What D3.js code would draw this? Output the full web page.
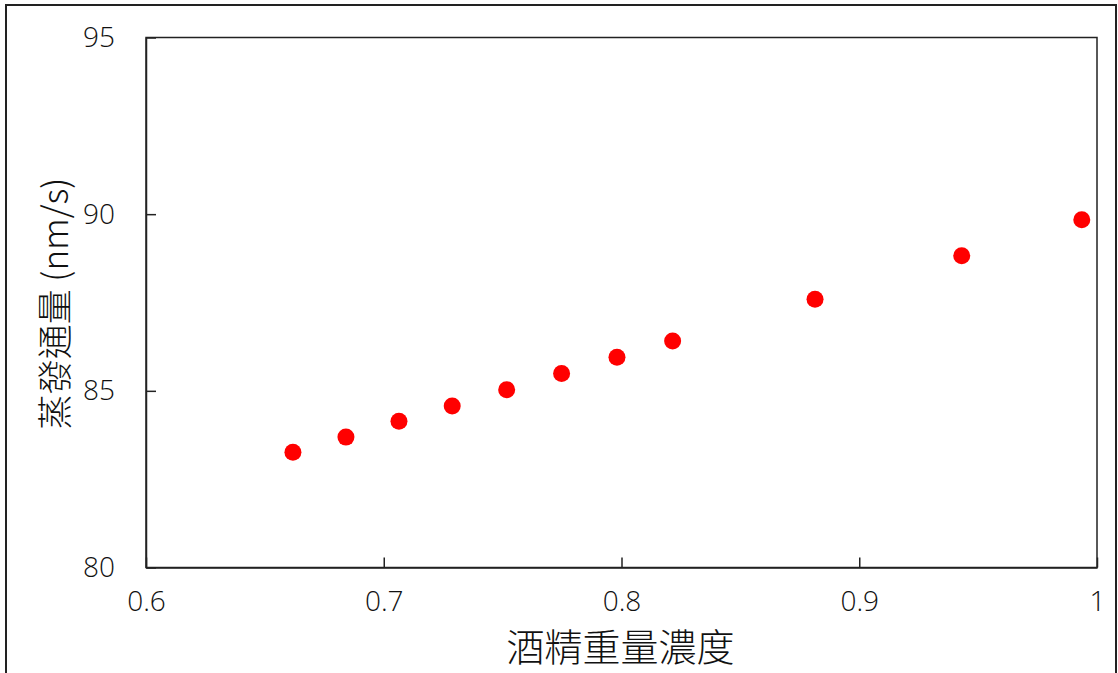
<!DOCTYPE html>
<html>
<head>
<meta charset="utf-8">
<script src="https://cdn.jsdelivr.net/npm/d3@7"></script>
<style>
  html, body { margin: 0; padding: 0; background: #fff; }
  svg { display: block; }
</style>
</head>
<body>
<svg id="chart" width="1118" height="673"></svg>
<script>
// Data
const concentration = [0.6618, 0.6841, 0.7064, 0.7288, 0.7517, 0.7748, 0.7981, 0.8215, 0.8814, 0.9431, 0.9936];
const flux = [83.26, 83.69, 84.14, 84.57, 85.03, 85.49, 85.95, 86.41, 87.59, 88.82, 89.84];
const xTicks = [0.6, 0.7, 0.8, 0.9, 1];
const xTickLabels = ["0.6", "0.7", "0.8", "0.9", "1"];
const yTicks = [80, 85, 90, 95];
const yTickLabels = ["80", "85", "90", "95"];
const xTitle = "酒精重量濃度";
const yTitle = "蒸發通量 (nm/s)";

const svg = d3.select("#chart");
const W = 1118, H = 673;
const m = { left: 146, right: 1097, top: 37.5, bottom: 567.5 };

// outer frame (no bottom edge visible)
svg.append("path")
  .attr("d", `M6,${H + 5} L6,5 L1116,5 L1116,${H + 5}`)
  .attr("fill", "none").attr("stroke", "#222").attr("stroke-width", 2);

const x = d3.scaleLinear().domain([0.6, 1]).range([m.left, m.right]);
const y = d3.scaleLinear().domain([80, 95]).range([m.bottom, m.top]);

const tickFont = "'Open Sans', 'Noto Sans', sans-serif";
const cjkFont = "'Noto Sans CJK TC', 'Noto Sans CJK SC', sans-serif";

// plot frame
svg.append("rect")
  .attr("x", m.left).attr("y", m.top)
  .attr("width", m.right - m.left).attr("height", m.bottom - m.top)
  .attr("fill", "none").attr("stroke", "#222").attr("stroke-width", 1.5);

// X axis (ticks inward)
const xAxis = d3.axisBottom(x).tickValues(xTicks)
  .tickFormat((d, i) => xTickLabels[i])
  .tickSizeInner(-10).tickSizeOuter(0).tickPadding(24);
const gx = svg.append("g").attr("transform", `translate(0,${m.bottom})`).call(xAxis);
gx.select(".domain").attr("stroke", "#222").attr("stroke-width", 1.5);
gx.selectAll(".tick line").attr("stroke", "#222").attr("stroke-width", 1.5);
gx.selectAll(".tick text").attr("font-family", tickFont).attr("font-size", 28)
  .attr("font-weight", 300).attr("fill", "#111");

// Y axis (ticks inward)
const yAxis = d3.axisLeft(y).tickValues(yTicks)
  .tickFormat((d, i) => yTickLabels[i])
  .tickSizeInner(-10).tickSizeOuter(0).tickPadding(31);
const gy = svg.append("g").attr("transform", `translate(${m.left},0)`).call(yAxis);
gy.select(".domain").attr("stroke", "#222").attr("stroke-width", 1.5);
gy.selectAll(".tick line").attr("stroke", "#222").attr("stroke-width", 1.5);
gy.selectAll(".tick text").attr("font-family", tickFont).attr("font-size", 28)
  .attr("font-weight", 300).attr("fill", "#111");

// points
svg.append("g").selectAll("circle")
  .data(concentration.map((c, i) => ({ c, f: flux[i] })))
  .join("circle")
  .attr("cx", d => x(d.c))
  .attr("cy", d => y(d.f))
  .attr("r", 8.5)
  .attr("fill", "#ff0000");

// axis titles
svg.append("text")
  .attr("x", (m.left + m.right) / 2 - 1).attr("y", 661)
  .attr("text-anchor", "middle")
  .attr("font-family", cjkFont).attr("font-size", 38).attr("font-weight", 300).attr("fill", "#111")
  .text(xTitle);

svg.append("text")
  .attr("transform", `translate(68,${(m.top + m.bottom) / 2 + 1}) rotate(-90)`)
  .attr("text-anchor", "middle")
  .attr("font-family", cjkFont).attr("font-size", 35).attr("font-weight", 300).attr("fill", "#111")
  .text(yTitle);
</script>
</body>
</html>
